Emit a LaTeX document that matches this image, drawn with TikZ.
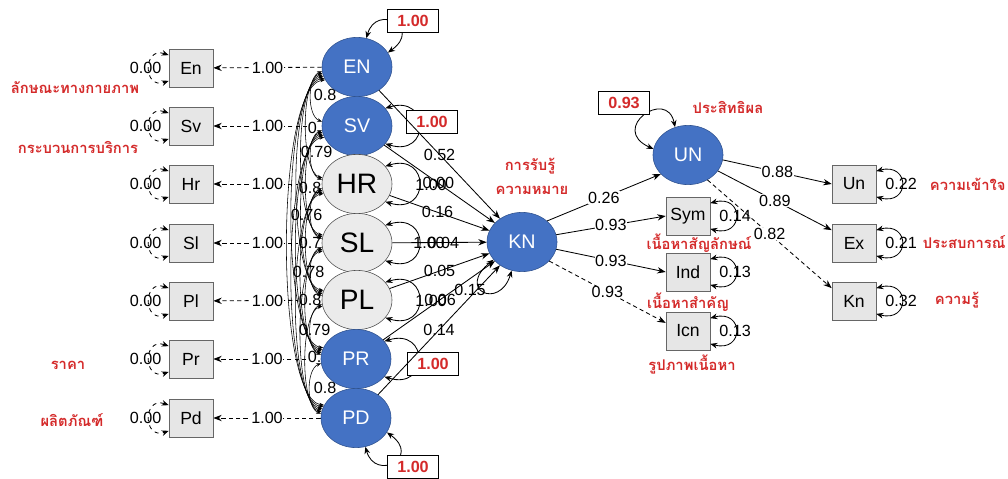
\documentclass[tikz,border=0pt]{standalone}
\usepackage{fontspec}
\setmainfont{Liberation Sans}
\newfontfamily\thaifont[Script=Thai]{Loma}
\usetikzlibrary{positioning,calc,shapes.geometric,arrows.meta,backgrounds}
\definecolor{latblue}{HTML}{4472C4}
\definecolor{latedge}{HTML}{2F528F}
\definecolor{latgray}{HTML}{EBEBEB}
\definecolor{boxgray}{HTML}{E6E6E6}
\definecolor{thred}{HTML}{D42A2A}

\begin{document}
\begin{tikzpicture}[x=0.025cm,y=0.025cm]
\tikzset{
  lat/.style={ellipse, draw=latedge, fill=latblue, text=white, minimum width=1.75cm, minimum height=1.48cm, inner sep=0pt, font=\fontsize{14}{16}\selectfont},
  latg/.style={lat, draw=black!70, fill=latgray, text=black, font=\fontsize{20}{22}\selectfont},
  obs/.style={draw=black!60, fill=boxgray, minimum width=1.1cm, minimum height=0.95cm, inner sep=0pt, font=\fontsize{12.5}{14}\selectfont},
  num/.style={font=\fontsize{11.5}{13}\selectfont, inner sep=0.5pt},
  numw/.style={num, fill=white},
  varbox/.style={draw=black, fill=white, text=thred, font=\bfseries\fontsize{11.5}{13}\selectfont, minimum width=1.27cm, minimum height=0.57cm, inner sep=0pt},
  thlab/.style={text=thred, font=\thaifont\bfseries\fontsize{10.5}{12}\selectfont},
  pth/.style={-{Stealth[length=6pt,width=4.5pt]}, line width=0.6pt},
  meas/.style={pth, dash pattern=on 3pt off 2.2pt},
  twoway/.style={{Stealth[length=5pt,width=4pt]}-{Stealth[length=5pt,width=4pt]}, line width=0.6pt},
  corr/.style={{Stealth[length=3.5pt,width=2.5pt]}-{Stealth[length=3.5pt,width=2.5pt]}, line width=0.4pt}
}
\useasboundingbox (0,0) rectangle (1008,-479);

% correlation values, half hidden by the latent ellipses
\foreach \txt/\xx/\yy in {0.8/313/95, 0./307/128, 0.79/300/152, 0.8/298/188, 0.76/290/215,
  0.72/298/243, 0.78/292/272, 0.8/298/300, 0.79/298/330, 0./307/357, 0.8/313/388}
  \node[numw, anchor=west] (r\yy) at (\xx,-\yy) {\txt};

% exogenous latents
\node[lat, alias=L1] (EN) at (357,-67) {EN};
\node[lat, alias=L2] (SV) at (357,-126) {SV};
\node[latg, alias=L3] (HR) at (357,-184) {HR};
\node[latg, alias=L4] (SL) at (357,-243) {SL};
\node[latg, alias=L5] (PL) at (357,-300) {PL};
\node[lat, alias=L6] (PR) at (356,-359) {PR};
\node[lat, alias=L7] (PD) at (356,-418) {PD};

% observed indicators (left)
\foreach \nm/\yy in {En/68,Sv/126,Hr/184,Sl/243,Pl/301,Pr/359,Pd/418}{
  \node[obs] (\nm) at (191,-\yy) {\nm};
  \draw[twoway, dashed] (\nm.150) .. controls +(-26,9) and +(-26,-9) .. (\nm.210);
  \node[num] (e\nm) at ($(\nm.west)+(-23,0)$) {0.00};
}

\begin{scope}[on background layer]
\foreach \a/\b in {EN/En,SV/Sv,HR/Hr,SL/Sl,PL/Pl,PR/Pr,PD/Pd}
  \draw[meas] (\a) -- node[numw, pos=0.5]{1.00} (\b);
\end{scope}

% correlations between latents
\foreach \i in {1,...,6}{
  \pgfmathtruncatemacro\ia{\i+1}
  \foreach \j in {\ia,...,7}{
    \pgfmathsetmacro\w{8+7*(\j-\i)}
    \pgfmathtruncatemacro\sa{184+3*(\j-\i)}
    \pgfmathtruncatemacro\ea{176-3*(\j-\i)}
    \draw[corr] (L\i.\sa) .. controls +(-\w,-6) and +(-\w,6) .. (L\j.\ea);
  }
}

% variances of latents
\draw[twoway] (EN.72) .. controls +(10,35) and +(35,25) .. (EN.25);
\foreach \nm in {SV,HR,SL,PL,PR}
  \draw[twoway] (\nm.32) .. controls +(45,14) and +(45,-14) .. (\nm.-32);
\draw[twoway] (PD.-72) .. controls +(10,-35) and +(35,-25) .. (PD.-25);
\node[varbox] (vEN) at (413,-21) {1.00};
\node[varbox] (vSV) at (432,-122) {1.00};
\node[varbox] (vPR) at (433,-364) {1.00};
\node[varbox] (vPD) at (413,-467) {1.00};
\node[num] (uHR) at (431,-185) {1.00};
\node[num] (uSL) at (429,-243) {1.00};
\node[num] (uPL) at (431,-301) {1.00};

% endogenous latent KN
\node[lat] (KN) at (522,-242) {KN};
\draw[pth] (EN) -- node[num, pos=0.5]{0.52} (KN);
\draw[pth] (SV) -- node[num, pos=0.49]{0.00} (KN);
\draw[pth] (HR) -- node[num, pos=0.48]{0.16} (KN);
\draw[pth] (SL) -- node[num, pos=0.54]{0.04} (KN);
\draw[pth] (PL) -- node[num, pos=0.5]{0.05} (KN);
\draw[pth] (PR) -- node[num, pos=0.51]{0.06} (KN);
\draw[pth] (PD) -- node[num, pos=0.5]{0.14} (KN);
\draw[twoway] (KN.212) .. controls +(-38,-30) and +(-12,-40) .. (KN.250);
\node[num] (uKN) at (470,-290) {0.15};

% endogenous latent UN
\node[lat] (UN) at (688,-155) {UN};
\draw[twoway] (UN.115) .. controls +(-8,40) and +(-45,20) .. (UN.170);
\node[varbox] (vUN) at (624,-103) {0.93};

% observed indicators (right)
\node[obs] (Sym) at (688,-216) {Sym};
\node[obs] (Ind) at (688,-272) {Ind};
\node[obs] (Icn) at (688,-331) {Icn};
\node[obs] (Un) at (854,-184) {Un};
\node[obs] (Ex) at (854,-243) {Ex};
\node[obs] (Kn) at (854,-301) {Kn};
\foreach \nm/\v in {Sym/0.14,Ind/0.13,Icn/0.13,Un/0.22,Ex/0.21,Kn/0.32}{
  \draw[twoway] (\nm.30) .. controls +(34,9) and +(34,-9) .. (\nm.-30);
  \node[num, anchor=west] (e\nm) at ($(\nm.east)+(8,0)$) {\v};
}
\draw[pth] (KN.40) -- node[numw]{0.26} (UN.215);
\draw[pth] (KN.12) -- node[numw]{0.93} (Sym.west);
\draw[pth] (KN.-12) -- node[numw]{0.93} (Ind.west);
\draw[meas] (KN.-35) -- node[numw]{0.93} (Icn.160);
\draw[pth] (UN.-8) -- node[numw]{0.88} (Un.west);
\draw[pth] (UN.-28) -- node[numw]{0.89} (Ex.150);
\draw[meas] (UN.-52) -- node[numw]{0.82} (Kn.150);

% Thai captions
\node[thlab] (tEn) at (75,-88) {ลักษณะทางกายภาพ};
\node[thlab] (tSv) at (78,-147) {กระบวนการบริการ};
\node[thlab] (tPr) at (68,-365) {ราคา};
\node[thlab] (tPd) at (72,-420) {ผลิตภัณฑ์};
\node[thlab] (tKNa) at (530,-166) {การรับรู้};
\node[thlab] (tKNb) at (532,-190) {ความหมาย};
\node[thlab] (tUN) at (728,-107) {ประสิทธิผล};
\node[thlab] (tSym) at (699,-243) {เนื้อหาสัญลักษณ์};
\node[thlab] (tInd) at (688,-302) {เนื้อหาสำคัญ};
\node[thlab] (tIcn) at (692,-364) {รูปภาพเนื้อหา};
\node[thlab, anchor=west] (tUn) at (925,-184) {ความเข้าใจ};
\node[thlab, anchor=west] (tEx) at (918,-242) {ประสบการณ์};
\node[thlab, anchor=west] (tKn) at (930,-300) {ความรู้};
\end{tikzpicture}
\end{document}
